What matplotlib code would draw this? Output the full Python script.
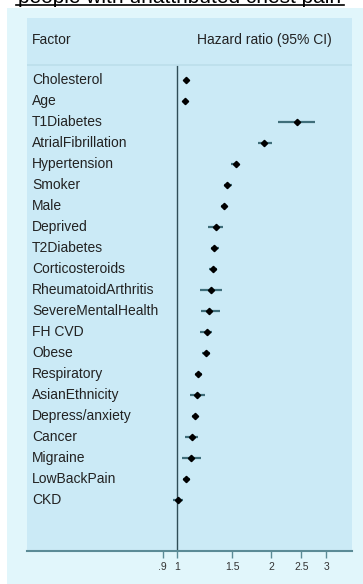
import numpy as np
import matplotlib.pyplot as plt
from matplotlib.patches import Rectangle
from matplotlib.lines import Line2D

plt.rcParams["font.family"] = ["Liberation Sans", "DejaVu Sans"]

# ==== DATA ====
factors = ["Cholesterol", "Age", "T1Diabetes", "AtrialFibrillation", "Hypertension",
           "Smoker", "Male", "Deprived", "T2Diabetes", "Corticosteroids",
           "RheumatoidArthritis", "SevereMentalHealth", "FH CVD", "Obese",
           "Respiratory", "AsianEthnicity", "Depress/anxiety", "Cancer",
           "Migraine", "LowBackPain", "CKD"]
hr = [1.07, 1.06, 2.42, 1.90, 1.545, 1.45, 1.41, 1.33, 1.31, 1.30,
      1.28, 1.27, 1.245, 1.235, 1.17, 1.16, 1.14, 1.12, 1.11, 1.07, 1.01]
ci_low = [1.06, 1.05, 2.11, 1.81, 1.49, 1.41, 1.38, 1.26, 1.28, 1.27,
          1.18, 1.19, 1.18, 1.20, 1.145, 1.10, 1.12, 1.063, 1.04, 1.045, 0.973]
ci_high = [1.08, 1.07, 2.77, 2.01, 1.58, 1.50, 1.45, 1.40, 1.36, 1.34,
           1.39, 1.37, 1.29, 1.275, 1.20, 1.23, 1.17, 1.17, 1.19, 1.10, 1.043]
tick_vals = [0.9, 1, 1.5, 2, 2.5, 3]
tick_labels = [".9", "1", "1.5", "2", "2.5", "3"]

W, H = 363, 584
fig = plt.figure(figsize=(W / 100, H / 100), dpi=100)
fig.patch.set_facecolor("white")

# outer light frame
fig.add_artist(Rectangle((7 / W, 0), 1 - 7 / W, 1 - 8 / H,
                         transform=fig.transFigure, facecolor="#e1f6fb",
                         edgecolor="none", zorder=-10))

# title (mostly above the top edge) with underline
fig.text(180 / W, 1 - 3 / H, "people with unattributed chest pain", ha="center",
         va="baseline", fontsize=15, color="black")
fig.add_artist(Line2D([16 / W, 344 / W], [1 - 4.5 / H, 1 - 4.5 / H],
                      transform=fig.transFigure, color="black", lw=1.2))

ax = fig.add_axes([27 / W, (H - 551) / H, 325 / W, 533 / H])
ax.set_facecolor("#cbeaf6")
ax.set_xscale("log")
ax.set_xlim(0.331, 3.63)
ax.set_ylim(22.43, -2.952)

y = np.arange(len(factors))
ax.hlines(y, ci_low, ci_high, color="#3f6e7a", lw=1.6, zorder=2)
ax.plot(hr, y, "D", color="black", markersize=3.2, zorder=3)

# reference line at HR = 1
ax.vlines(1, -0.714, 22.43, color="#2f4d57", lw=1.0, zorder=1)

# header row
ax.axhline(-0.714, color="#bcdeea", lw=1.2)
ax.text(0.0154, -1.905, "Factor", transform=ax.get_yaxis_transform(),
        va="center", ha="left", fontsize=10, color="#222222")
ax.text(0.523, -1.905, "Hazard ratio (95% CI)", transform=ax.get_yaxis_transform(),
        va="center", ha="left", fontsize=10, color="#222222")
for i, name in enumerate(factors):
    ax.text(0.0154, i, name, transform=ax.get_yaxis_transform(),
            va="center", ha="left", fontsize=10, color="#222222")

ax.set_xticks(tick_vals)
ax.set_xticklabels(tick_labels)
ax.xaxis.set_minor_locator(plt.NullLocator())
ax.tick_params(axis="x", length=5, width=1, color="#5b8b96", labelsize=7.5,
               labelcolor="#333333", pad=3)
ax.set_yticks([])
for side in ["top", "left", "right"]:
    ax.spines[side].set_visible(False)
ax.spines["bottom"].set_color("#5b8b96")
ax.spines["bottom"].set_linewidth(1.5)

fig.savefig("out.png", dpi=100)
